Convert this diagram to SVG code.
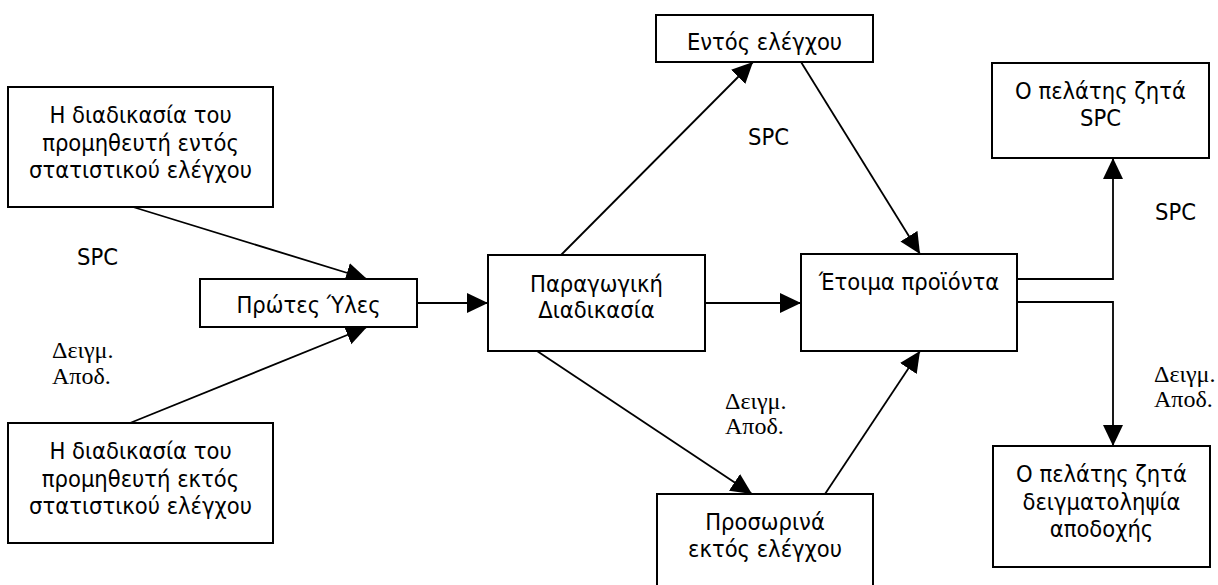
<svg xmlns="http://www.w3.org/2000/svg" width="1218" height="585" viewBox="0 0 1218 585">
<style>
.box{fill:#fff;stroke:#000;stroke-width:2}
.t{font-family:"DejaVu Sans Condensed","DejaVu Sans",sans-serif;font-stretch:condensed;font-size:23.5px;fill:#000;text-anchor:middle}
.s{font-family:"DejaVu Sans Condensed","DejaVu Sans",sans-serif;font-stretch:condensed;font-size:23.5px;fill:#000}
.g{font-family:"Liberation Serif","Times New Roman",serif;font-size:24px;fill:#000}
.c{fill:none;stroke:#000;stroke-width:1.8}
</style>
<defs>
<marker id="ah" markerUnits="userSpaceOnUse" markerWidth="21" markerHeight="22" refX="21" refY="11" orient="auto">
<path d="M0,1 L21,11 L0,21 z" fill="#000"/>
</marker>
</defs>
<rect width="1218" height="585" fill="#fff"/>
<g id="connectors">
<line class="c" x1="133" y1="207" x2="367" y2="279" marker-end="url(#ah)"/>
<line class="c" x1="130" y1="423" x2="367" y2="327" marker-end="url(#ah)"/>
<line class="c" x1="417" y1="303" x2="488" y2="303" marker-end="url(#ah)"/>
<line class="c" x1="705" y1="303" x2="801" y2="303" marker-end="url(#ah)"/>
<line class="c" x1="561" y1="255" x2="753" y2="62" marker-end="url(#ah)"/>
<line class="c" x1="801" y1="62" x2="920" y2="254" marker-end="url(#ah)"/>
<line class="c" x1="537" y1="351" x2="752" y2="494" marker-end="url(#ah)"/>
<line class="c" x1="825" y1="494" x2="920" y2="351" marker-end="url(#ah)"/>
<polyline class="c" points="1017,279 1113,279 1113,158" marker-end="url(#ah)"/>
<polyline class="c" points="1017,302 1113,302 1113,446" marker-end="url(#ah)"/>
</g>
<g id="supplier-in-control">
<rect class="box" x="8" y="87" width="265" height="120"/>
<text class="t" x="140.5" y="123">Η διαδικασία του</text>
<text class="t" x="140.5" y="150.5">προμηθευτή εντός</text>
<text class="t" x="140.5" y="178">στατιστικού ελέγχου</text>
</g>
<g id="supplier-out-control">
<rect class="box" x="8" y="423" width="265" height="120"/>
<text class="t" x="140.5" y="459">Η διαδικασία του</text>
<text class="t" x="140.5" y="486.5">προμηθευτή εκτός</text>
<text class="t" x="140.5" y="514">στατιστικού ελέγχου</text>
</g>
<g id="raw-materials">
<rect class="box" x="200" y="279" width="217" height="48"/>
<text class="t" x="308.5" y="313">Πρώτες Ύλες</text>
</g>
<g id="production">
<rect class="box" x="488" y="255" width="217" height="96"/>
<text class="t" x="596.5" y="292">Παραγωγική</text>
<text class="t" x="596.5" y="318">Διαδικασία</text>
</g>
<g id="in-control">
<rect class="box" x="656" y="15" width="217" height="47"/>
<text class="t" x="764.5" y="50">Εντός ελέγχου</text>
</g>
<g id="finished-products">
<rect class="box" x="801" y="254" width="216" height="97"/>
<text class="t" x="909" y="290">Έτοιμα προϊόντα</text>
</g>
<g id="temporarily-out">
<rect class="box" x="657" y="494" width="216" height="120"/>
<text class="t" x="765" y="530">Προσωρινά</text>
<text class="t" x="765" y="557">εκτός ελέγχου</text>
</g>
<g id="customer-spc">
<rect class="box" x="992" y="63" width="217" height="95"/>
<text class="t" x="1100.5" y="99">Ο πελάτης ζητά</text>
<text class="t" x="1100.5" y="126">SPC</text>
</g>
<g id="customer-sampling">
<rect class="box" x="993" y="446" width="217" height="121"/>
<text class="t" x="1101.5" y="482">Ο πελάτης ζητά</text>
<text class="t" x="1101.5" y="509.5">δειγματοληψία</text>
<text class="t" x="1101.5" y="537">αποδοχής</text>
</g>
<g id="labels">
<text class="s" x="77" y="265">SPC</text>
<text class="s" x="748" y="145">SPC</text>
<text class="s" x="1155" y="220">SPC</text>
<text class="g" x="52" y="358">Δειγμ.</text>
<text class="g" x="52" y="384">Αποδ.</text>
<text class="g" x="725" y="409">Δειγμ.</text>
<text class="g" x="725" y="434">Αποδ.</text>
<text class="g" x="1154" y="382">Δειγμ.</text>
<text class="g" x="1154" y="407">Αποδ.</text>
</g>
</svg>
